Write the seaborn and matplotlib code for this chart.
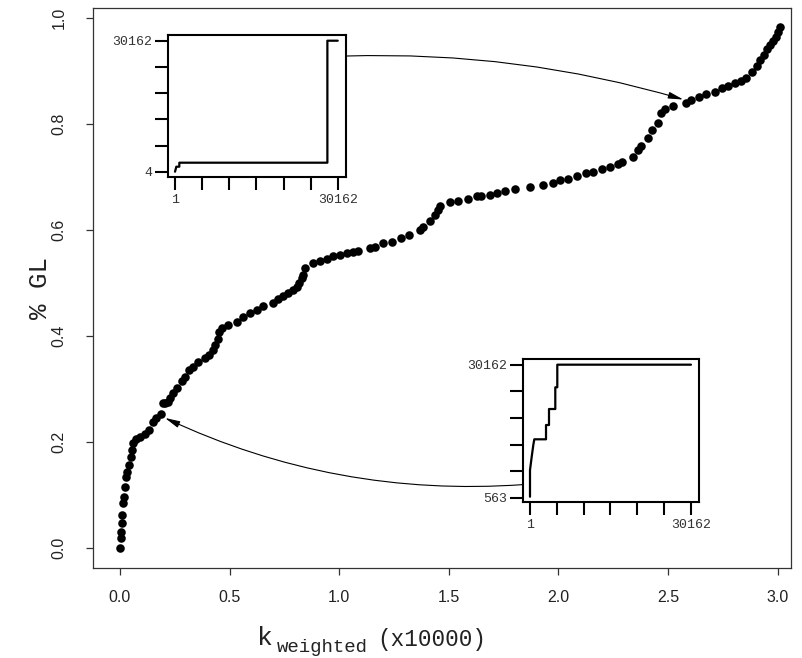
import matplotlib
matplotlib.use('Agg')
import matplotlib.pyplot as plt
import seaborn as sns
import numpy as np
import pandas as pd

# main curve: k_weighted (x10000) vs % GL
k_weighted = [0.000, 0.003, 0.005, 0.008, 0.010, 0.015, 0.018, 0.021, 0.026, 0.033,
              0.041, 0.049, 0.053, 0.058, 0.073, 0.091, 0.114, 0.134, 0.152, 0.164,
              0.186, 0.195, 0.205, 0.219, 0.228, 0.243, 0.259, 0.281, 0.296, 0.316,
              0.334, 0.357, 0.388, 0.407, 0.423, 0.433, 0.446, 0.453, 0.464, 0.494,
              0.532, 0.562, 0.593, 0.623, 0.653, 0.699, 0.722, 0.745, 0.767, 0.790,
              0.806, 0.818, 0.829, 0.836, 0.844, 0.881, 0.912, 0.943, 0.973, 1.003,
              1.034, 1.064, 1.087, 1.140, 1.163, 1.201, 1.239, 1.280, 1.319, 1.368,
              1.383, 1.414, 1.436, 1.451, 1.462, 1.505, 1.543, 1.588, 1.627, 1.649,
              1.687, 1.718, 1.756, 1.801, 1.870, 1.930, 1.976, 2.006, 2.044, 2.083,
              2.128, 2.158, 2.197, 2.234, 2.272, 2.288, 2.341, 2.363, 2.379, 2.409,
              2.425, 2.455, 2.470, 2.485, 2.523, 2.581, 2.607, 2.642, 2.675, 2.713,
              2.744, 2.774, 2.804, 2.835, 2.855, 2.882, 2.905, 2.918, 2.937, 2.950,
              2.964, 2.978, 2.991, 3.001, 3.010]
pct_gl = [0.000, 0.019, 0.030, 0.047, 0.062, 0.085, 0.096, 0.115, 0.134, 0.143,
          0.157, 0.172, 0.185, 0.198, 0.206, 0.209, 0.215, 0.223, 0.238, 0.245,
          0.253, 0.274, 0.273, 0.275, 0.283, 0.292, 0.302, 0.314, 0.323, 0.336,
          0.342, 0.350, 0.358, 0.364, 0.374, 0.383, 0.394, 0.408, 0.415, 0.421,
          0.427, 0.436, 0.444, 0.449, 0.457, 0.462, 0.469, 0.475, 0.481, 0.487,
          0.493, 0.499, 0.509, 0.515, 0.528, 0.538, 0.542, 0.545, 0.550, 0.553,
          0.556, 0.559, 0.561, 0.565, 0.568, 0.575, 0.578, 0.584, 0.591, 0.600,
          0.606, 0.616, 0.628, 0.638, 0.645, 0.652, 0.655, 0.658, 0.663, 0.664,
          0.666, 0.669, 0.674, 0.678, 0.681, 0.685, 0.689, 0.694, 0.696, 0.702,
          0.707, 0.709, 0.715, 0.719, 0.724, 0.728, 0.737, 0.751, 0.759, 0.773,
          0.789, 0.801, 0.820, 0.828, 0.833, 0.840, 0.845, 0.850, 0.857, 0.861,
          0.867, 0.872, 0.877, 0.881, 0.887, 0.898, 0.909, 0.921, 0.930, 0.942,
          0.949, 0.957, 0.964, 0.974, 0.983]

# inset (top): rank step curve
top_rank_x = [1, 242, 798, 798, 28238, 28238, 30162]
top_rank_y = [4, 1155, 1155, 2076, 2076, 30162, 30162]

# inset (bottom): rank step curve
bot_rank_x = [1, 1, 320, 620, 806, 3000, 3000, 3560, 3560, 4740, 4740, 5115, 5115, 30162]
bot_rank_y = [785, 6700, 9685, 12289, 13560, 13560, 16739, 16739, 20299, 20299, 25127, 25127, 30162, 30162]

main_xticks = [0.0, 0.5, 1.0, 1.5, 2.0, 2.5, 3.0]
main_yticks = [0.0, 0.2, 0.4, 0.6, 0.8, 1.0]

sns.set_style("ticks")
plt.rcParams['font.family'] = ['Liberation Sans', 'DejaVu Sans']

df = pd.DataFrame({'k': k_weighted, 'gl': pct_gl})

fig = plt.figure(figsize=(8.02, 6.58), dpi=100)
ax = fig.add_axes([0.116, 0.137, 0.870, 0.851])
sns.scatterplot(data=df, x='k', y='gl', ax=ax, color='black', s=38,
                edgecolor='black', linewidth=0, zorder=3)
ax.set_xlim(-0.123, 3.06)
ax.set_ylim(-0.038, 1.019)
ax.set_xticks(main_xticks)
ax.set_xticklabels([f'{v:.1f}' for v in main_xticks])
ax.set_yticks(main_yticks)
ax.set_yticklabels([f'{v:.1f}' for v in main_yticks], rotation=90, va='center')
ax.tick_params(axis='both', length=5, width=0.9, color='#333333',
               labelsize=11.5, labelcolor='#222222')
ax.tick_params(axis='x', pad=11)
ax.tick_params(axis='y', pad=14)
for sp in ax.spines.values():
    sp.set_visible(True)
    sp.set_color('#333333')
    sp.set_linewidth(0.9)
ax.set_xlabel('')
ax.set_ylabel('% GL', family='Liberation Mono', fontsize=18.5, labelpad=0,
              color='#222222')

# x label: k with a large monospace subscript, then (x10000)
mono = dict(family='Liberation Mono', color='#222222', va='baseline', ha='left')
fig.text(0.320, 0.0195, 'k', fontsize=19, **mono)
fig.text(0.345, 0.0095, 'weighted', fontsize=13.7, **mono)
fig.text(0.470, 0.0185, '(x10000)', fontsize=16.3, **mono)


def make_inset(rect, xs, ys, xlim, ylim, ylabels, ylo):
    ins = fig.add_axes(rect)
    sns.lineplot(x=xs, y=ys, ax=ins, sort=False, estimator=None,
                 color='black', linewidth=1.6)
    ins.set_xlim(*xlim)
    ins.set_ylim(*ylim)
    ins.set_xticks(np.linspace(1, 30162, 7))
    ins.set_xticklabels(['1', '', '', '', '', '', '30162'])
    ins.set_yticks(np.linspace(ylo, 30162, 6))
    ins.set_yticklabels([ylabels[0], '', '', '', '', ylabels[1]])
    ins.tick_params(axis='both', length=9.5, width=1.5, color='black',
                    labelsize=9.5, labelcolor='#333333')
    ins.tick_params(axis='x', pad=3)
    ins.tick_params(axis='y', pad=2)
    for lab in ins.get_xticklabels() + ins.get_yticklabels():
        lab.set_family('Liberation Mono')
    for sp in ins.spines.values():
        sp.set_visible(True)
        sp.set_color('black')
        sp.set_linewidth(1.5)
    ins.set_xlabel('')
    ins.set_ylabel('')
    return ins


ins_top = make_inset([0.2095, 0.731, 0.222, 0.2158], top_rank_x, top_rank_y,
                     (-1297, 31701), (-1216, 31474), ('4', '30162'), 4)
ins_bot = make_inset([0.6525, 0.2375, 0.219, 0.2169], bot_rank_x, bot_rank_y,
                     (-1254, 31655), (-327, 31424), ('563', '30162'), 563)

arrow_kw = dict(arrowstyle='-|>,head_length=0.9,head_width=0.2',
                color='black', lw=0.8, shrinkA=0, shrinkB=0)
ax.annotate('', xy=(2.57, 0.846), xycoords='data',
            xytext=(1.0, 0.852), textcoords=ins_top.transAxes,
            arrowprops=dict(connectionstyle='arc3,rad=-0.08', **arrow_kw))
ax.annotate('', xy=(0.205, 0.245), xycoords='data',
            xytext=(0.0, 0.12), textcoords=ins_bot.transAxes,
            arrowprops=dict(connectionstyle='arc3,rad=-0.13', **arrow_kw))

fig.savefig('out.png', dpi=100)
